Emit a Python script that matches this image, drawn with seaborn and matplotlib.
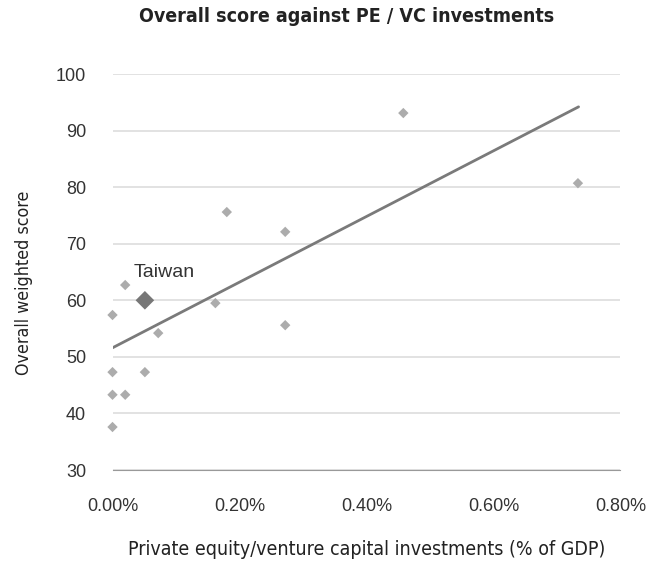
import numpy as np
import pandas as pd
import matplotlib
matplotlib.use('Agg')
import matplotlib.pyplot as plt
import seaborn as sns
from matplotlib.ticker import PercentFormatter

# data (x in % of GDP)
pe_vc = [0.00, 0.02, 0.072, 0.00, 0.051, 0.00, 0.02, 0.00, 0.18, 0.272, 0.162, 0.272, 0.458, 0.733]
score = [57.4, 62.7, 54.2, 47.3, 47.3, 43.3, 43.3, 37.6, 75.6, 72.1, 59.5, 55.6, 93.1, 80.7]
taiwan_x = [0.051]
taiwan_y = [60.0]
trend_x = [0.00, 0.734]
trend_y = [51.6, 94.2]

df = pd.DataFrame({'pe_vc': pe_vc, 'score': score})
tw = pd.DataFrame({'pe_vc': taiwan_x, 'score': taiwan_y})
trend = pd.DataFrame({'pe_vc': trend_x, 'score': trend_y})

sns.set_style('white')
plt.rcParams['font.family'] = ['Liberation Sans', 'DejaVu Sans']

fig = plt.figure(figsize=(6.61, 5.62), dpi=100)
ax = fig.add_axes([0.1702, 0.1637, 0.7685, 0.7046])

sns.lineplot(data=trend, x='pe_vc', y='score', color='#7a7a7a', linewidth=2, ax=ax)
sns.scatterplot(data=df, x='pe_vc', y='score', marker='D', s=28, color='#acacac',
                edgecolor='none', clip_on=False, ax=ax)
sns.scatterplot(data=tw, x='pe_vc', y='score', marker='D', s=90, color='#777777',
                edgecolor='none', clip_on=False, ax=ax)
ax.text(0.033, 65.0, 'Taiwan', fontsize=14, color='#333333', va='center')

ax.set_xlim(0, 0.8)
ax.set_ylim(30, 100)
ax.set_yticks(range(30, 101, 10))
ax.set_xticks([0, 0.2, 0.4, 0.6, 0.8])
ax.xaxis.set_major_formatter(PercentFormatter(xmax=100, decimals=2))
ax.yaxis.grid(True, color='#dddddd', linewidth=1.2)
ax.set_axisbelow(True)
for s in ['top', 'right', 'left']:
    ax.spines[s].set_visible(False)
ax.spines['bottom'].set_color('#999999')
ax.tick_params(axis='x', direction='out', length=5, color='#999999', labelsize=13,
               labelcolor='#333333', pad=15)
ax.tick_params(axis='y', length=0, labelsize=13, labelcolor='#333333', pad=19)

cond = ['DejaVu Sans']
ax.set_xlabel('Private equity/venture capital investments (% of GDP)', fontsize=14,
              family=cond, fontstretch='condensed', color='#222222')
ax.set_ylabel('Overall weighted score', fontsize=12.8, family=cond, fontstretch='condensed',
              color='#222222')
ax.xaxis.set_label_coords(0.5, -0.178)
ax.yaxis.set_label_coords(-0.156, 0.472)
fig.text(0.524, 0.97, 'Overall score against PE / VC investments', fontsize=14,
         fontweight='bold', family=cond, fontstretch='condensed', ha='center', va='center',
         color='#222222')

fig.savefig('out.png', dpi=100, facecolor='white')
